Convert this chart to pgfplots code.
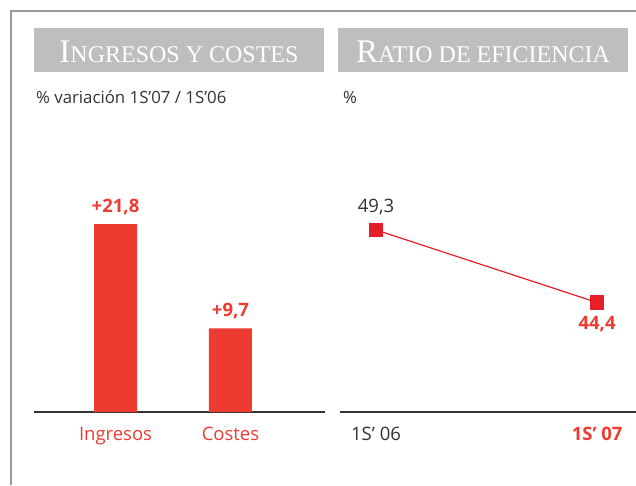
\documentclass[border=0pt]{standalone}
\usepackage{fontspec}
\setmainfont{Open Sans}
\newfontfamily\hfont{Liberation Serif}
\usepackage{pgfplots}
\pgfplotsset{compat=1.18}
\definecolor{bred}{HTML}{EE3B31}
\definecolor{mred}{HTML}{E61E2A}
\definecolor{dgray}{HTML}{333333}
\definecolor{hgray}{HTML}{BDBEC0}
\definecolor{fgray}{HTML}{9A9A9A}
\begin{document}
\begin{tikzpicture}
\path[use as bounding box] (0pt,0pt) rectangle (636pt,-485pt);
% frame
\draw[fgray, line width=1.2pt] (11pt,-485pt) -- (11pt,-11pt) -- (636pt,-11pt);
% header boxes
\fill[hgray] (34pt,-28pt) rectangle (324pt,-72pt);
\fill[hgray] (338pt,-28pt) rectangle (628pt,-72pt);
\node[white, inner sep=0pt, anchor=base] at (179pt,-62pt) {\hfont\fontsize{33}{33}\selectfont I\fontsize{24}{24}\selectfont NGRESOS Y COSTES};
\node[white, inner sep=0pt, anchor=base] at (483pt,-62pt) {\hfont\fontsize{33}{33}\selectfont R\fontsize{24}{24}\selectfont ATIO DE EFICIENCIA};
\node[dgray, inner sep=0pt, anchor=base west] at (36pt,-103pt) {\fontsize{16.8}{16.8}\selectfont \% variación 1S’07 / 1S’06};
\node[dgray, inner sep=0pt, anchor=base west] at (343pt,-103pt) {\fontsize{16.8}{16.8}\selectfont \%};

\begin{axis}[
  at={(34pt,-412pt)}, anchor=south west,
  scale only axis, width=291pt, height=215.6pt,
  xmin=-0.709, xmax=1.822, ymin=0, ymax=25,
  axis x line=bottom, axis y line=none,
  axis line style={-, dgray, line width=1.6pt},
  xtick={0,1}, xticklabels={Ingresos,Costes},
  x tick label style={bred, font=\fontsize{18.5}{18.5}\selectfont, yshift=-12pt},
  major tick length=0pt, ytick=\empty,
  clip=false,
]
\addplot[ybar, bar width=43pt, fill=bred, draw=none,
  point meta=explicit symbolic, nodes near coords,
  every node near coord/.append style={bred, font=\fontsize{18.5}{18.5}\selectfont\bfseries, yshift=6pt}]
  coordinates {(0,21.8)[+21,8] (1,9.7)[+9,7]};
\end{axis}

\begin{axis}[
  at={(340pt,-412pt)}, anchor=south west,
  scale only axis, width=296pt, height=266.4pt,
  xmin=-0.163, xmax=1.176, ymin=37, ymax=55,
  axis x line=bottom, axis y line=none,
  axis line style={-, dgray, line width=1.6pt},
  xtick={0,1}, xticklabels={{\color{dgray}1S’ 06},{\bfseries\color{bred}1S’ 07}},
  x tick label style={font=\fontsize{18.5}{18.5}\selectfont, yshift=-12pt},
  major tick length=0pt, ytick=\empty,
  clip=false,
]
\addplot[mred, line width=1.2pt, mark=square*, mark size=6.5pt, mark options={fill=mred, draw=none}]
  coordinates {(0,49.3) (1,44.4)};
\addplot[draw=none, point meta=explicit symbolic, nodes near coords,
  every node near coord/.append style={dgray, font=\fontsize{18.5}{18.5}\selectfont, yshift=12pt}]
  coordinates {(0,49.3)[49,3]};
\addplot[draw=none, point meta=explicit symbolic, nodes near coords, nodes near coords align=below,
  every node near coord/.append style={bred, font=\fontsize{18.5}{18.5}\selectfont\bfseries, yshift=-10pt}]
  coordinates {(1,44.4)[44,4]};
\end{axis}
\end{tikzpicture}
\end{document}
